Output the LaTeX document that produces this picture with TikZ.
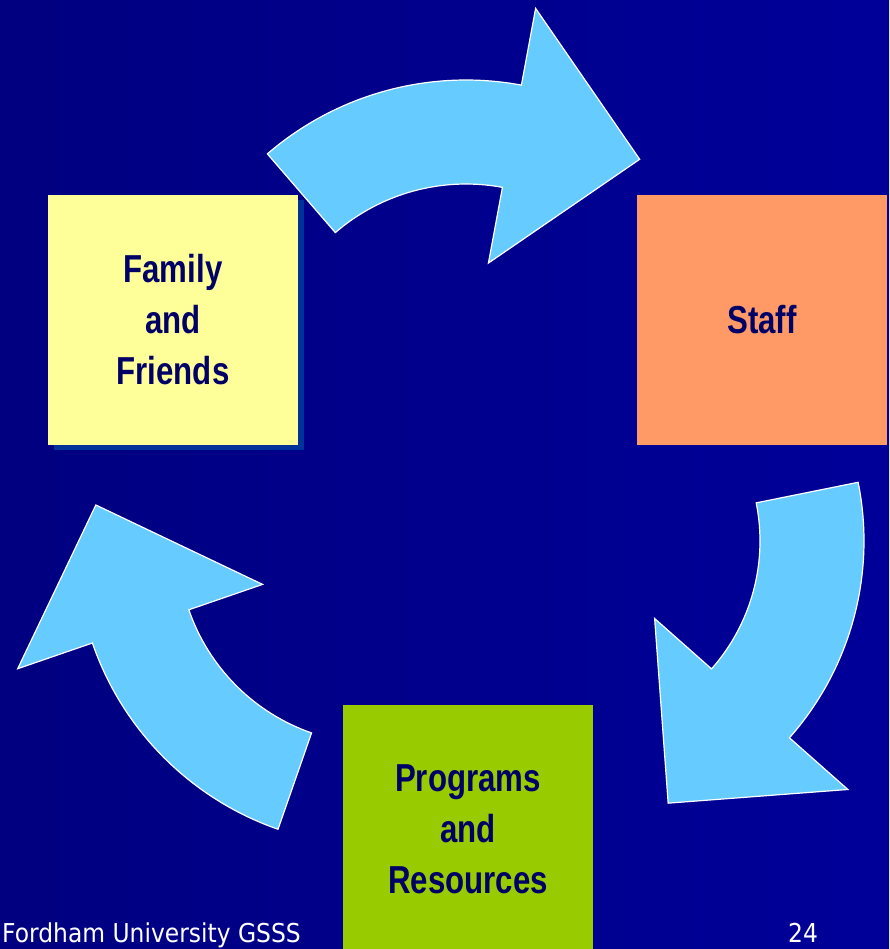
\documentclass[tikz,border=0pt]{standalone}
\usepackage{fontspec}
\setmainfont{DejaVu Sans}
\newfontfamily\boxfont[FakeStretch=0.8]{Liberation Sans}
\newfontfamily\footfont[FakeStretch=0.9]{DejaVu Sans}
\usetikzlibrary{shadows}

\definecolor{bgleft}{RGB}{0,0,128}
\definecolor{bgright}{RGB}{0,0,153}
\definecolor{arrowblue}{RGB}{102,204,255}
\definecolor{famyellow}{RGB}{255,255,153}
\definecolor{stafforange}{RGB}{255,153,102}
\definecolor{proggreen}{RGB}{153,204,0}
\definecolor{shadowblue}{RGB}{0,51,153}
\definecolor{cardtext}{RGB}{0,0,102}

\begin{document}
\begin{tikzpicture}[x=1pt,y=1pt]
\tikzstyle{card} = [rectangle, minimum width=250pt, minimum height=249pt, inner sep=0pt, text centered, align=center, text=cardtext, font=\boxfont\bfseries\fontsize{39}{51}\selectfont]
\tikzstyle{turn} = [fill=arrowblue, draw=white, line width=1.2pt, line join=miter]
\tikzstyle{footer} = [anchor=base west, inner sep=0pt, text=white, font=\footfont\fontsize{26}{30}\selectfont]
\useasboundingbox (0,0) rectangle (889,-949);
\clip (0,0) rectangle (889,-949);
\shade[left color=bgleft, right color=bgright] (0,0) rectangle (889,-949);
% centres of the three curved arrows
\coordinate (topc) at (466,-384);
\coordinate (rightc) at (567,-541);
\coordinate (leftc) at (377,-545);
\begin{scope}[shift={(topc)}]
\draw [turn] (130.8:304) arc[start angle=130.8, end angle=79.5, radius=304] -- (79.5:382) -- (52.3:284) -- (79.5:123) -- (79.5:200) arc[start angle=79.5, end angle=130.8, radius=200] -- cycle;
\end{scope}
\begin{scope}[shift={(rightc)}]
\draw [turn] (11.4:297) arc[start angle=11.4, end angle=-41.5, radius=297] -- (-41.5:375) -- (-68.9:281) -- (-41.5:117) -- (-41.5:193) arc[start angle=-41.5, end angle=11.4, radius=193] -- cycle;
\end{scope}
\begin{scope}[shift={(leftc)}]
\draw [turn] (250.8:301) arc[start angle=250.8, end angle=199, radius=301] -- (199:380) -- (171.9:284) -- (199:121) -- (199:199) arc[start angle=199, end angle=250.8, radius=199] -- cycle;
\end{scope}
% the three boxes
\node (family) [card, fill=famyellow, drop shadow={shadow xshift=6pt, shadow yshift=-5pt, fill=shadowblue, opacity=1}] at (173,-320) {Family\\and\\Friends};
\node (staff) [card, fill=stafforange] at (762,-320) {Staff};
\node (programs) [card, fill=proggreen] at (468,-829) {Programs\\and\\Resources};
\node (footer) [footer] at (2,-942) {Fordham University GSSS};
\node (pagenum) [footer] at (788,-942) {24};
\end{tikzpicture}
\end{document}
